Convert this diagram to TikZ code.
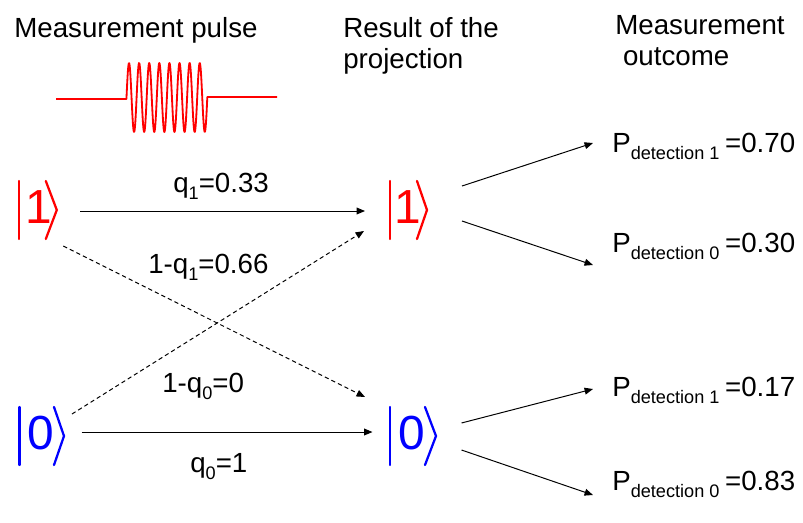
\documentclass[tikz,border=0pt]{standalone}
\usepackage{fontspec}
\setmainfont{Liberation Sans}
\usetikzlibrary{calc,arrows.meta}
\definecolor{ketred}{RGB}{255,0,0}
\definecolor{ketblue}{RGB}{0,0,255}
\newcommand{\lowsub}[1]{\raisebox{-5pt}{\fontsize{12.9}{14}\selectfont #1}}
\tikzset{
  txt/.style     ={inner sep=0pt, font=\fontsize{19.7}{22}\selectfont},
  headtxt/.style ={txt, align=left, anchor=north west},
  probtxt/.style ={txt, anchor=base west},
  ketnode/.style ={inner sep=0pt, anchor=base, font=\fontsize{34}{36}\selectfont},
  ketline/.style ={line width=1.6pt, line cap=round, line join=miter},
  qarrow/.style  ={-{Triangle[length=2.1mm, width=1.7mm]}, line width=0.7pt},
  qdash/.style   ={qarrow, dash pattern=on 3pt off 2.2pt},
  pulse/.style   ={line width=1.3pt, ketred, line join=round},
}
\begin{document}
\begin{tikzpicture}[x=0.025cm, y=-0.025cm]
\useasboundingbox (0,0) rectangle (803,522);
% column heads
\node[txt, anchor=base west] (hpulse) at (14,37) {Measurement pulse};
\node[headtxt] (hproj) at (343,17) {Result of the\\projection};
\node[headtxt] (hout) at (615,15) {Measurement\\\hspace*{0.28em}outcome};
% the pulse
\draw[pulse] (56,99) -- (126.5,99) -- (126.5,97.5)
  -- plot[domain=0:80.8, samples=240] ({126.5+\x}, {97.5-34.5*sin(35.644*\x)})
  -- (207.3,97) -- (277,97);
% kets
\node[ketnode, ketred]  (k1) at (38.3,223) {1};
\node[ketnode, ketblue] (k0) at (40.5,449) {0};
\node[ketnode, ketred]  (m1) at (408,223) {1};
\node[ketnode, ketblue] (m0) at (411.5,449) {0};
\foreach \k/\c/\b/\t/\p in {k1/ketred/19/7.5/18.5, m1/ketred/18/9/19,
                             k0/ketblue/21/13.5/23.5, m0/ketblue/21.5/13.5/24.5} {
  \draw[ketline, \c] ([shift={(-\b,-42)}]\k.base) -- ([shift={(-\b,16)}]\k.base);
  \draw[ketline, \c] ([shift={(\t,-42)}]\k.base) -- ([shift={(\p,-13)}]\k.base)
    -- ([shift={(\t,16)}]\k.base);
}
% projections
\draw[qarrow] ([shift={(41.7,-12)}]k1.base) -- ([shift={(-43,-12)}]m1.base);
\draw[qarrow] ([shift={(41,-17)}]k0.base) -- ([shift={(-39,-17)}]m0.base);
\draw[qdash] ([shift={(25,23)}]k1.base) -- ([shift={(-46.5,-52)}]m0.base);
\draw[qdash] ([shift={(31.5,-35)}]k0.base) -- ([shift={(-44,8)}]m1.base);
\node[probtxt] (q1) at (173,192) {q\lowsub{1}=0.33};
\node[probtxt] (nq1) at (148,273) {1-q\lowsub{1}=0.66};
\node[probtxt] (nq0) at (162,392) {1-q\lowsub{0}=0};
\node[probtxt] (q0) at (190,472) {q\lowsub{0}=1};
% outcomes
\node[probtxt] (p11) at (612,152) {P\lowsub{detection 1}\hspace{4pt}=0.70};
\node[probtxt] (p10) at (612,252) {P\lowsub{detection 0}\hspace{4pt}=0.30};
\node[probtxt] (p01) at (612,396) {P\lowsub{detection 1}\hspace{4pt}=0.17};
\node[probtxt] (p00) at (612,490) {P\lowsub{detection 0}\hspace{4pt}=0.83};
\draw[qarrow] ([shift={(54,-37)}]m1.base) -- ([shift={(-19,-9)}]p11.base west);
\draw[qarrow] ([shift={(54,-2)}]m1.base) -- ([shift={(-19,13)}]p10.base west);
\draw[qarrow] ([shift={(50,-26)}]m0.base) -- ([shift={(-19,-7)}]p01.base west);
\draw[qarrow] ([shift={(50,1)}]m0.base) -- ([shift={(-19,5)}]p00.base west);
\end{tikzpicture}
\end{document}
